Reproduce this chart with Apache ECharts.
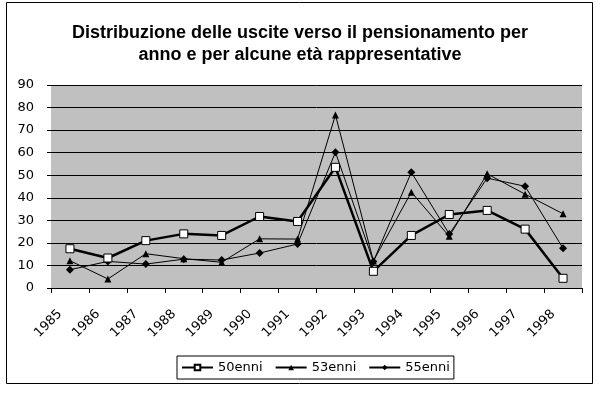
<!DOCTYPE html>
<html><head><meta charset="utf-8">
<script src="https://cdn.jsdelivr.net/npm/echarts@6/dist/echarts.min.js"></script>
<style>html,body{margin:0;padding:0;background:#fff}#c{width:600px;height:393px}</style>
</head><body><div id="c"></div>
<script>
const years = ['1985','1986','1987','1988','1989','1990','1991','1992','1993','1994','1995','1996','1997','1998'];
const s50 = [17.4, 13.3, 21, 24, 23.3, 31.7, 29.5, 53.5, 7.4, 23.3, 32.6, 34.4, 26.1, 4.3];
const s53 = [12.1, 4, 15.2, 13, 11.4, 21.8, 21.7, 76.7, 12, 42.5, 22.9, 50.6, 41.6, 32.9];
const s55 = [8.1, 11.8, 10.6, 12.8, 12.4, 15.5, 19.5, 60.2, 11.8, 51.3, 23.9, 48.7, 45.1, 17.6];
const yTicks = {min: 0, max: 90, interval: 10};
const titleText = 'Distribuzione delle uscite verso il pensionamento per\nanno e per alcune età rappresentative';

const chart = echarts.init(document.getElementById('c'), null, {renderer: 'canvas'});
const tfont = 'Liberation Sans, Arial, sans-serif';
const font = 'DejaVu Sans, sans-serif';
chart.setOption({
  animation: false,
  backgroundColor: '#ffffff',
  graphic: [{type: 'rect', shape: {x: 6.5, y: 2.5, width: 586, height: 381}, style: {fill: 'none', stroke: '#000', lineWidth: 1}, z: -1}],
  title: {
    text: titleText, left: 'center', top: 17,
    textStyle: {fontFamily: tfont, fontWeight: 'bold', fontSize: 18, color: '#000', lineHeight: 22}
  },
  grid: {left: 51, right: 18, top: 85, bottom: 105, show: true, backgroundColor: '#c0c0c0', borderWidth: 0},
  xAxis: {
    type: 'category', data: years, boundaryGap: true,
    axisLine: {lineStyle: {color: '#000', width: 1}},
    axisTick: {show: true, length: 5, lineStyle: {color: '#000'}},
    axisLabel: {rotate: 45, color: '#000', fontFamily: font, fontSize: 13, margin: 14, interval: 0, padding: [0, 14, 0, 0]}
  },
  yAxis: {
    type: 'value', min: yTicks.min, max: yTicks.max, interval: yTicks.interval,
    axisLine: {show: false},
    axisTick: {show: true, length: 4, lineStyle: {color: '#000'}},
    axisLabel: {color: '#000', fontFamily: font, fontSize: 13, margin: 17},
    splitLine: {lineStyle: {color: '#000', width: 1}}
  },
  legend: {
    bottom: 14, left: 177, itemGap: 12, itemWidth: 31, itemHeight: 7,
    borderColor: '#000', borderWidth: 1, padding: [5, 4, 5, 4], borderRadius: 0,
    textStyle: {fontFamily: font, fontSize: 13, color: '#000'},
    data: ['50enni', '53enni', '55enni']
  },
  series: [
    {name: '50enni', type: 'line', data: s50, symbol: 'rect', symbolSize: 8,
     lineStyle: {color: '#000', width: 2.5}, itemStyle: {color: '#fff', borderColor: '#000', borderWidth: 1}, z: 3},
    {name: '53enni', type: 'line', data: s53, symbol: 'triangle', symbolSize: 7,
     lineStyle: {color: '#000', width: 1}, itemStyle: {color: '#000'}, z: 2},
    {name: '55enni', type: 'line', data: s55, symbol: 'diamond', symbolSize: 8,
     lineStyle: {color: '#000', width: 1}, itemStyle: {color: '#000'}, z: 2}
  ]
});
</script></body></html>
